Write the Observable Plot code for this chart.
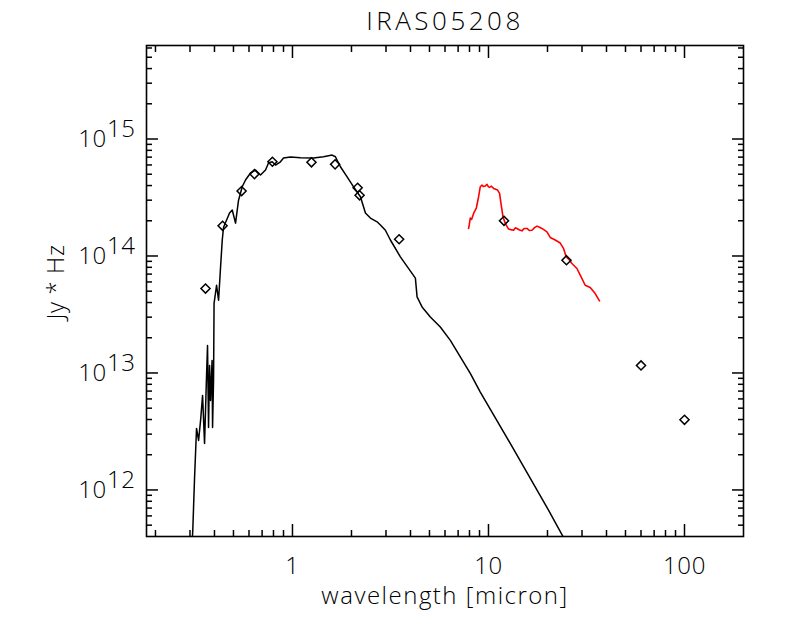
<!DOCTYPE html>
<html><head><meta charset="utf-8">
<script src="https://cdn.jsdelivr.net/npm/d3@7"></script>
<script src="https://cdn.jsdelivr.net/npm/@observablehq/plot@0.6"></script>
<style>body{margin:0;background:#fff}</style>
</head><body><div id="chart"></div>
<script>
// Model SED (black line)
const modelWavelength = [0.306,0.310,0.3166,0.324,0.3319,0.3398,0.3478,0.3560,0.3644,0.3687,0.3731,0.3776,0.3820,0.3888,0.3911,0.3957,0.3981,0.4100,0.4197,0.4296,0.4383,0.4450,0.4775,0.4929,0.5123,0.5226,0.5307,0.5433,0.5541,0.5760,0.6107,0.6477,0.6870,0.7286,0.7547,0.7880,0.8193,0.8685,0.9000,0.9768,1.0984,1.279,1.439,1.594,1.656,1.757,1.900,2.046,2.222,2.356,2.498,2.702,2.809,2.979,3.159,3.552,4.237,4.322,4.583,5.051,5.679,6.388,7.182,8.076,9.082,13.38,19.87,24.63];
const modelFlux = [3.0e11,4.5e11,1.28e12,3.36e12,2.65e12,3.93e12,6.43e12,2.50e12,9.54e12,1.72e13,3.42e12,1.16e13,5.82e12,1.28e13,3.42e12,8.65e12,3.94e13,5.62e13,4.19e13,8.02e13,1.37e14,1.76e14,2.33e14,2.47e14,1.91e14,2.47e14,3.00e14,3.45e14,3.91e14,4.46e14,5.12e14,5.43e14,4.92e14,5.43e14,6.23e14,6.39e14,5.99e14,6.39e14,6.88e14,7.01e14,6.92e14,6.88e14,7.05e14,7.29e14,7.05e14,5.79e14,4.75e14,3.91e14,3.21e14,2.33e14,2.11e14,1.96e14,1.84e14,1.66e14,1.37e14,9.83e13,6.46e13,4.47e13,3.67e13,3.01e13,2.47e13,1.90e13,1.37e13,9.93e12,6.86e12,2.26e12,7.11e11,3.69e11];

// Spectrum (red line)
const irsWavelength = [7.916,7.98,8.076,8.2,8.397,8.55,8.667,8.904,9.082,9.265,9.40,9.632,9.826,10.0,10.13,10.35,10.62,11.13,11.39,11.58,11.86,12.18,12.66,13.0,13.43,13.7,13.97,14.4,14.82,15.2,15.71,16.2,16.66,17.2,17.67,18.2,18.74,19.87,20.65,21.90,23.23,24.14,24.92,25.8,26.65,28.26,29.38,31.15,33.03,35.03,36.84];
const irsFlux = [1.72e14,1.85e14,2.11e14,2.05e14,2.31e14,2.45e14,2.57e14,3.21e14,3.91e14,4.04e14,3.92e14,3.96e14,4.10e14,3.90e14,3.86e14,3.95e14,3.78e14,3.66e14,3.43e14,2.82e14,2.16e14,1.90e14,1.70e14,1.68e14,1.66e14,1.74e14,1.72e14,1.67e14,1.64e14,1.72e14,1.72e14,1.65e14,1.66e14,1.75e14,1.80e14,1.76e14,1.72e14,1.61e14,1.44e14,1.37e14,1.29e14,1.16e14,9.83e13,9.3e13,8.63e13,7.82e13,6.85e13,5.62e13,5.37e13,4.77e13,4.13e13];

// Photometry (diamonds)
const photWavelength = [0.36,0.44,0.55,0.64,0.79,1.25,1.65,2.15,2.2,3.5,12,25,60,100];
const photFlux = [5.27e13,1.81e14,3.59e14,5.01e14,6.39e14,6.32e14,6.07e14,3.83e14,3.30e14,1.39e14,2.00e14,9.20e13,1.16e13,3.98e12];

const xMajorTicks = [1, 10, 100];
const yMajorTicks = [1e12, 1e13, 1e14, 1e15];
const xDomain = [0.18, 200];
const yDomain = [4e11, 6.3e15];

const titleText = "IRAS05208";
const xLabel = "wavelength [micron]";
const yLabel = "Jy * Hz";

function minorTicks(domain) {
  const out = [];
  for (let e = Math.floor(Math.log10(domain[0])); e <= Math.ceil(Math.log10(domain[1])); e++) {
    for (let k = 2; k <= 9; k++) {
      const v = k * Math.pow(10, e);
      if (v >= domain[0] * 1.0001 && v <= domain[1] * 0.9999) out.push(v);
    }
  }
  return out;
}
const xMinor = minorTicks(xDomain);
const yMinor = minorTicks(yDomain);

const model = modelWavelength.map((w, i) => ({w, f: modelFlux[i]}));
const irs = irsWavelength.map((w, i) => ({w, f: irsFlux[i]}));
const phot = photWavelength.map((w, i) => ({w, f: photFlux[i]}));

const font = "'Open Sans', 'DejaVu Sans', sans-serif";
const noText = () => "";
const tickOpts = {tickFormat: noText, strokeWidth: 1.5, label: null};

const plot = Plot.plot({
  width: 786,
  height: 629,
  marginLeft: 146,
  marginRight: 43,
  marginTop: 45,
  marginBottom: 93,
  style: {fontFamily: font, background: "#fff", color: "#000", fontWeight: 300, letterSpacing: "0.6px"},
  x: {type: "log", domain: xDomain},
  y: {type: "log", domain: yDomain},
  marks: [
    Plot.line(model, {x: "w", y: "f", stroke: "#000", strokeWidth: 1.5, clip: true}),
    Plot.line(irs, {x: "w", y: "f", stroke: "#ff0000", strokeWidth: 1.6, clip: true}),
    Plot.dot(phot, {x: "w", y: "f", symbol: "diamond2", r: 4.1, stroke: "#000", strokeWidth: 1.5, fill: "none"}),
    Plot.frame({stroke: "#000", strokeWidth: 1.6}),
    // major and minor ticks on all four sides, pointing inward
    Plot.axisX({anchor: "bottom", ticks: xMajorTicks, tickSize: -12, ...tickOpts}),
    Plot.axisX({anchor: "bottom", ticks: xMinor, tickSize: -6, ...tickOpts}),
    Plot.axisX({anchor: "top", ticks: xMajorTicks, tickSize: -12, ...tickOpts}),
    Plot.axisX({anchor: "top", ticks: xMinor, tickSize: -6, ...tickOpts}),
    Plot.axisY({anchor: "left", ticks: yMajorTicks, tickSize: -12, ...tickOpts}),
    Plot.axisY({anchor: "left", ticks: yMinor, tickSize: -6, ...tickOpts}),
    Plot.axisY({anchor: "right", ticks: yMajorTicks, tickSize: -12, ...tickOpts}),
    Plot.axisY({anchor: "right", ticks: yMinor, tickSize: -6, ...tickOpts}),
    // tick labels
    Plot.axisX({anchor: "bottom", ticks: xMajorTicks, tickSize: 0, tickPadding: 20, fontSize: 24, tickFormat: d => String(d), label: null}),
    Plot.axisY({anchor: "left", ticks: yMajorTicks, tickSize: 0, tickPadding: 11, fontSize: 24, tickFormat: d => "10^" + Math.round(Math.log10(d)), label: null}),
    // titles
    Plot.text([titleText], {frameAnchor: "top", dy: -24, fontSize: 26, lineAnchor: "middle", fill: "#000", className: "title-text"}),
    Plot.text([xLabel], {frameAnchor: "bottom", dy: 60, fontSize: 24, lineAnchor: "middle", fill: "#000", className: "xlabel-text"}),
    Plot.text([yLabel], {frameAnchor: "left", dx: -90, dy: -9, rotate: -90, textAnchor: "middle", fontSize: 24, lineAnchor: "middle", fill: "#000"})
  ]
});

// wider letter spacing for the title and x-axis title, as in the reference
d3.select(plot).selectAll(".title-text text").style("letter-spacing", "3.5px");
d3.select(plot).selectAll(".xlabel-text text").style("letter-spacing", "1.5px");

// Render exponents as raised text
d3.select(plot).selectAll('g[aria-label="y-axis tick label"] text').each(function () {
  const t = this.textContent;
  const m = t.match(/^10\^(\d+)$/);
  if (m) {
    this.textContent = "";
    const s = d3.select(this);
    s.append("tspan").text("10");
    s.append("tspan").attr("dy", "-0.42em").text(m[1]);
  }
});

document.getElementById("chart").appendChild(plot);
</script>
</body></html>
